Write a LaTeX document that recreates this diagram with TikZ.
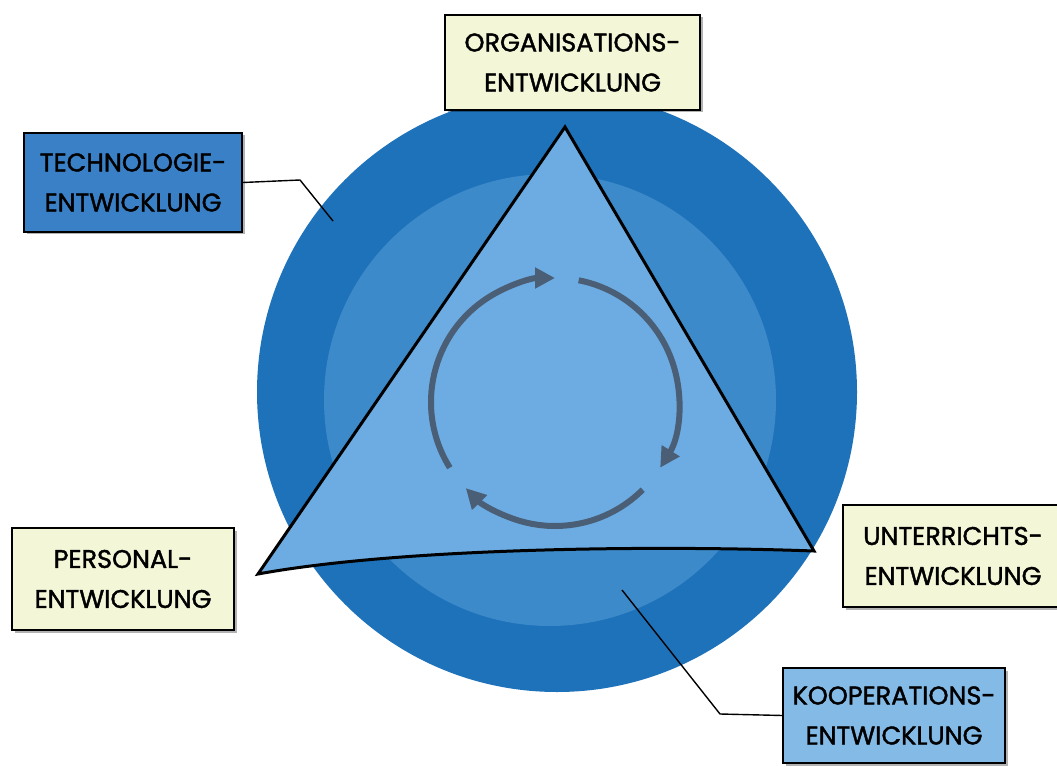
\documentclass[tikz,border=0pt]{standalone}
\usepackage{fontspec}
\setmainfont[FakeBold=1.6]{Poppins}
\usepackage{tikz}
\usetikzlibrary{arrows.meta,shadows}

\definecolor{ringdark}{RGB}{30,114,186}
\definecolor{ringlight}{RGB}{60,138,202}
\definecolor{trianglefill}{RGB}{108,172,226}
\definecolor{noteyellow}{RGB}{244,246,216}
\definecolor{noteblue}{RGB}{58,128,198}
\definecolor{notelightblue}{RGB}{132,186,230}
\definecolor{cyclegrey}{RGB}{74,94,118}

\tikzstyle{box:note}=[draw=black, line width=1.6pt, align=center, inner sep=0pt,
  font=\fontsize{25.5}{40}\selectfont,
  drop shadow={shadow xshift=2.5pt, shadow yshift=-2.5pt, fill=black, opacity=0.3}]
\tikzstyle{box:yellow}=[box:note, fill=noteyellow]
\tikzstyle{box:blue}=[box:note, fill=noteblue]
\tikzstyle{box:lightblue}=[box:note, fill=notelightblue]
\tikzstyle{draw:leader}=[line width=1.4pt, line join=round]
\tikzstyle{draw:cycle}=[cyclegrey, line width=6pt, -{Triangle[length=20pt,width=20pt]}]

\begin{document}
\begin{tikzpicture}[x=1pt, y=-1pt]
        \useasboundingbox (0,0) rectangle (1057,767);

        % Rings
        \fill[ringdark] (557,392) circle[radius=300];
        \fill[ringlight] (550,400) circle[radius=226];

        % Triangle
        \coordinate (apex) at (565,127);
        \coordinate (lcorner) at (258,574);
        \coordinate (rcorner) at (814,551);
        \filldraw[fill=trianglefill, draw=black, line width=3pt, line join=miter]
            (apex) -- (lcorner) .. controls (400,548) and (650,545) .. (rcorner) -- cycle;

        % Cycle arrows
        \coordinate (hub) at (555,402);
        \draw[draw:cycle] ([shift={(-212:124)}]hub) arc[start angle=-212, end angle=-90, radius=124];
        \draw[draw:cycle] ([shift={(-79:124)}]hub) arc[start angle=-79, end angle=32, radius=124];
        \draw[draw:cycle] ([shift={(45:124)}]hub) arc[start angle=45, end angle=136, radius=124];

        % Labels
        \node[box:yellow, minimum width=255pt, minimum height=95pt] (orga) at (572.5,62.5) {ORGANISATIONS-\\ENTWICKLUNG};
        \node[box:blue, minimum width=218pt, minimum height=99pt] (techn) at (133,182.5) {TECHNOLOGIE-\\ENTWICKLUNG};
        \node[box:yellow, minimum width=222pt, minimum height=102pt] (personal) at (123,579) {PERSONAL-\\ENTWICKLUNG};
        \node[box:yellow, minimum width=220pt, minimum height=102pt] (unterricht) at (953,556) {UNTERRICHTS-\\ENTWICKLUNG};
        \node[box:lightblue, minimum width=222pt, minimum height=95pt] (koop) at (894,715.5) {KOOPERATIONS-\\ENTWICKLUNG};

        % Leader lines
        \coordinate (techn_bend) at (300,180);
        \coordinate (techn_end) at (333,221);
        \coordinate (koop_bend) at (720,714);
        \coordinate (koop_end) at (622,590);
        \draw[draw:leader] (techn.east) -- (techn_bend) -- (techn_end);
        \draw[draw:leader] (koop.west) -- (koop_bend) -- (koop_end);

    \end{tikzpicture}
\end{document}
